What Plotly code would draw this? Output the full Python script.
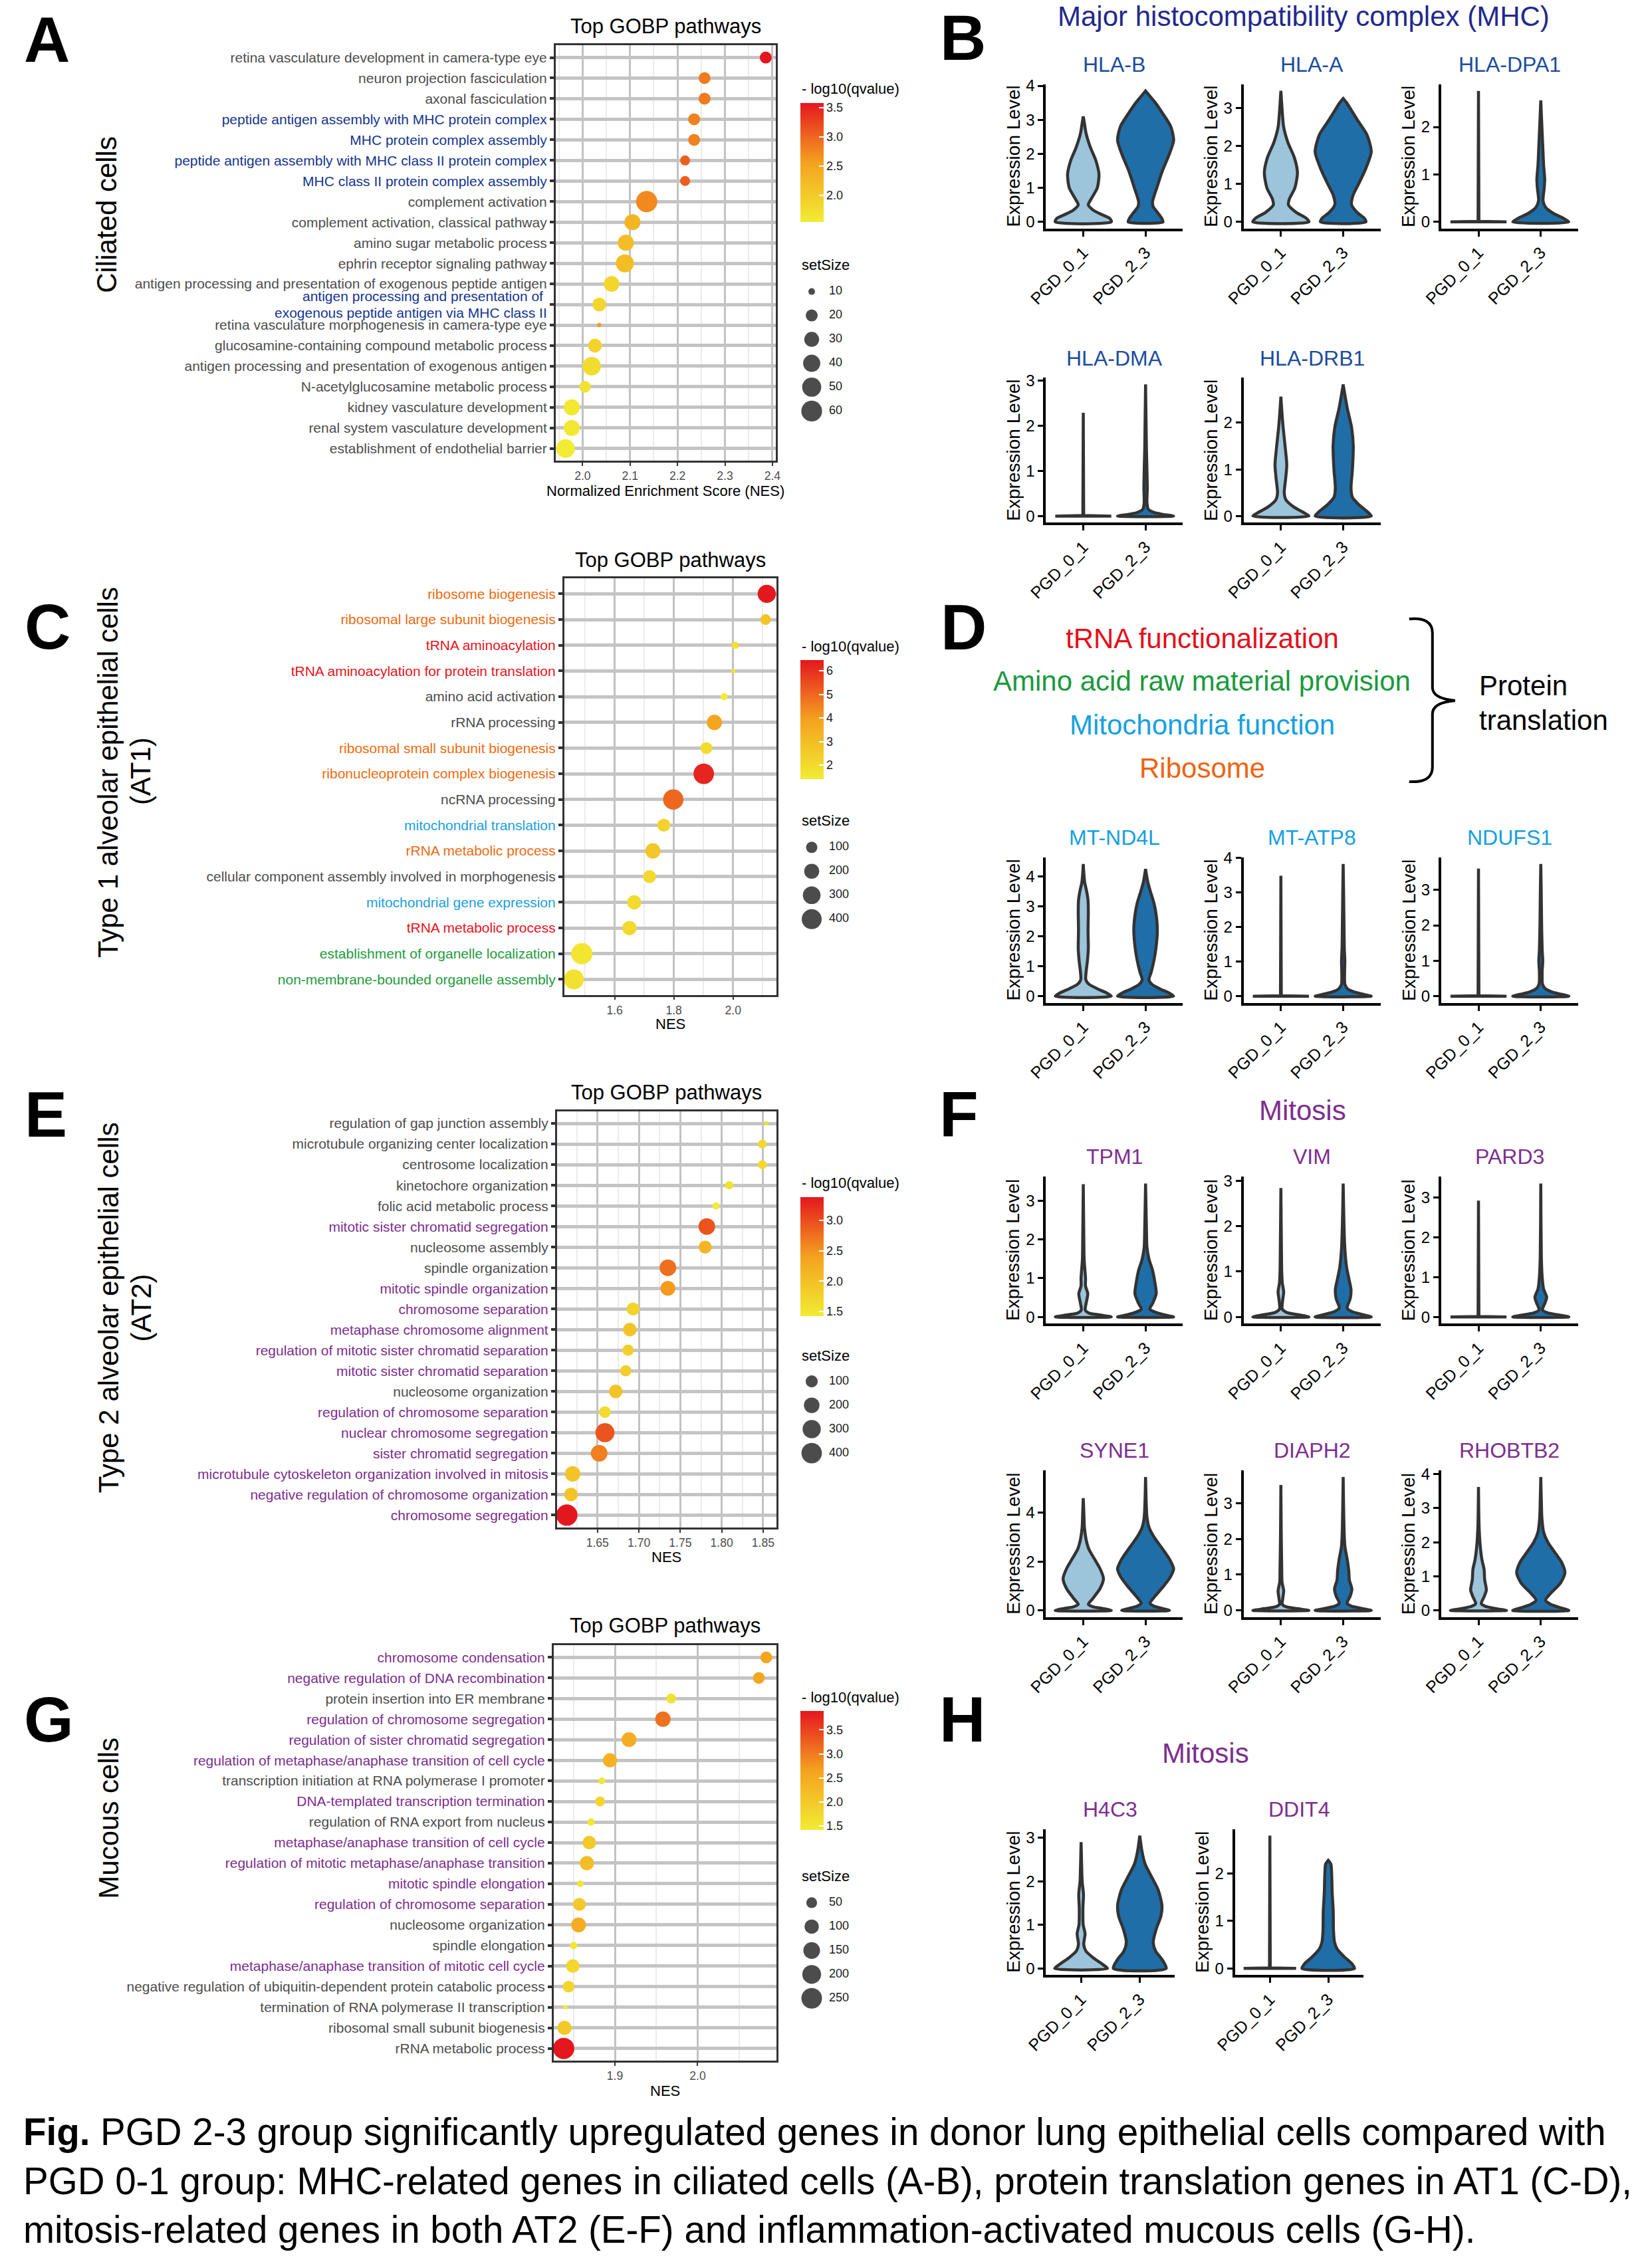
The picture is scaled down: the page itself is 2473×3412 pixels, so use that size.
import plotly.graph_objects as go

W, H = 2473, 3412
FONT = "Liberation Sans, Arial, Helvetica, sans-serif"

# ------------------------------------------------------------------ data
a_terms = [
    "retina vasculature development in camera-type eye",
    "neuron projection fasciculation",
    "axonal fasciculation",
    "peptide antigen assembly with MHC protein complex",
    "MHC protein complex assembly",
    "peptide antigen assembly with MHC class II protein complex",
    "MHC class II protein complex assembly",
    "complement activation",
    "complement activation, classical pathway",
    "amino sugar metabolic process",
    "ephrin receptor signaling pathway",
    "antigen processing and presentation of exogenous peptide antigen",
    "antigen processing and presentation of <br>exogenous peptide antigen via MHC class II",
    "retina vasculature morphogenesis in camera-type eye",
    "glucosamine-containing compound metabolic process",
    "antigen processing and presentation of exogenous antigen",
    "N-acetylglucosamine metabolic process",
    "kidney vasculature development",
    "renal system vasculature development",
    "establishment of endothelial barrier",
]
a_group = ["other", "other", "other", "mhc", "mhc", "mhc", "mhc", "other", "other", "other",
           "other", "other", "mhc", "other", "other", "other", "other", "other", "other", "other"]
a_nes = [2.386, 2.257, 2.257, 2.235, 2.235, 2.216, 2.216, 2.135, 2.105, 2.091,
         2.089, 2.061, 2.035, 2.035, 2.026, 2.019, 2.005, 1.977, 1.977, 1.964]
a_q = [3.58, 2.85, 2.85, 2.8, 2.8, 3.05, 3.05, 2.75, 2.3, 2.2,
       2.2, 1.85, 1.85, 2.6, 1.9, 1.75, 1.7, 1.6, 1.6, 1.55]
a_size = [20, 20, 20, 20, 20, 15, 15, 63, 35, 35, 44, 33, 26, 9, 26, 47, 19, 35, 35, 47]
a_size_breaks = [10, 20, 30, 40, 50, 60]
a_cbar_ticks = [2.0, 2.5, 3.0, 3.5]

c_terms = [
    "ribosome biogenesis",
    "ribosomal large subunit biogenesis",
    "tRNA aminoacylation",
    "tRNA aminoacylation for protein translation",
    "amino acid activation",
    "rRNA processing",
    "ribosomal small subunit biogenesis",
    "ribonucleoprotein complex biogenesis",
    "ncRNA processing",
    "mitochondrial translation",
    "rRNA metabolic process",
    "cellular component assembly involved in morphogenesis",
    "mitochondrial gene expression",
    "tRNA metabolic process",
    "establishment of organelle localization",
    "non-membrane-bounded organelle assembly",
]
c_group = ["ribo", "ribo", "trna", "trna", "other", "other", "ribo", "ribo", "other", "mito",
           "ribo", "other", "mito", "trna", "amino", "amino"]
c_nes = [2.114, 2.110, 2.008, 2.002, 1.970, 1.937, 1.910, 1.901, 1.798, 1.766,
         1.729, 1.718, 1.666, 1.650, 1.489, 1.462]
c_q = [6.45, 2.8, 1.8, 1.7, 1.41, 3.8, 2.0, 6.2, 5.0, 2.3, 2.7, 2.1, 2.0, 2.1, 1.6, 1.8]
c_size = [320, 86, 37, 25, 37, 210, 115, 430, 420, 140, 210, 140, 175, 175, 466, 400]
c_size_breaks = [100, 200, 300, 400]
c_cbar_ticks = [2, 3, 4, 5, 6]

e_terms = [
    "regulation of gap junction assembly",
    "microtubule organizing center localization",
    "centrosome localization",
    "kinetochore organization",
    "folic acid metabolic process",
    "mitotic sister chromatid segregation",
    "nucleosome assembly",
    "spindle organization",
    "mitotic spindle organization",
    "chromosome separation",
    "metaphase chromosome alignment",
    "regulation of mitotic sister chromatid separation",
    "mitotic sister chromatid separation",
    "nucleosome organization",
    "regulation of chromosome separation",
    "nuclear chromosome segregation",
    "sister chromatid segregation",
    "microtubule cytoskeleton organization involved in mitosis",
    "negative regulation of chromosome organization",
    "chromosome segregation",
]
e_group = ["other", "other", "other", "other", "other", "mit", "other", "other", "mit", "mit",
           "mit", "mit", "mit", "other", "mit", "mit", "mit", "mit", "mit", "mit"]
e_nes = [1.854, 1.849, 1.849, 1.809, 1.793, 1.782, 1.780, 1.735, 1.735, 1.693,
         1.689, 1.687, 1.684, 1.672, 1.659, 1.659, 1.652, 1.620, 1.618, 1.613]
e_q = [1.6, 1.7, 1.7, 1.55, 1.42, 2.95, 2.15, 2.75, 2.45, 1.75,
       1.95, 1.8, 1.8, 1.95, 1.65, 2.95, 2.65, 1.95, 1.95, 3.38]
e_size = [10, 41, 41, 34, 22, 237, 123, 237, 175, 123, 140, 83, 83, 140, 90, 333, 237, 195, 140, 440]
e_size_breaks = [100, 200, 300, 400]
e_cbar_ticks = [1.5, 2.0, 2.5, 3.0]

g_terms = [
    "chromosome condensation",
    "negative regulation of DNA recombination",
    "protein insertion into ER membrane",
    "regulation of chromosome segregation",
    "regulation of sister chromatid segregation",
    "regulation of metaphase/anaphase transition of cell cycle",
    "transcription initiation at RNA polymerase I promoter",
    "DNA-templated transcription termination",
    "regulation of RNA export from nucleus",
    "metaphase/anaphase transition of cell cycle",
    "regulation of mitotic metaphase/anaphase transition",
    "mitotic spindle elongation",
    "regulation of chromosome separation",
    "nucleosome organization",
    "spindle elongation",
    "metaphase/anaphase transition of mitotic cell cycle",
    "negative regulation of ubiquitin-dependent protein catabolic process",
    "termination of RNA polymerase II transcription",
    "ribosomal small subunit biogenesis",
    "rRNA metabolic process",
]
g_group = ["mit", "mit", "other", "mit", "mit", "mit", "other", "mit", "other", "mit",
           "mit", "mit", "mit", "other", "other", "mit", "other", "other", "other", "other"]
g_nes = [2.083, 2.074, 1.968, 1.958, 1.917, 1.894, 1.884, 1.882, 1.871, 1.869,
         1.866, 1.858, 1.857, 1.856, 1.850, 1.849, 1.844, 1.840, 1.839, 1.838]
g_q = [2.6, 2.6, 1.6, 3.1, 2.5, 2.4, 1.5, 1.8, 1.5, 2.0,
       2.2, 1.5, 2.0, 2.5, 1.5, 1.8, 1.8, 1.42, 2.0, 3.9]
g_size = [62, 62, 40, 122, 110, 99, 17, 40, 20, 88, 99, 17, 78, 110, 20, 88, 62, 12, 99, 270]
g_size_breaks = [50, 100, 150, 200, 250]
g_cbar_ticks = [1.5, 2.0, 2.5, 3.0, 3.5]

groups = ["PGD_0_1", "PGD_2_3"]

# Violin density profiles: (expression level, relative half-width)
hla_b_01 = [(0, 1.0), (0.1, 0.95), (0.2, 0.7), (0.35, 0.35), (0.5, 0.18), (0.7, 0.3), (1.0, 0.5),
            (1.4, 0.56), (1.8, 0.45), (2.2, 0.25), (2.6, 0.1), (2.9, 0.04), (3.1, 0)]
hla_b_23 = [(0, 0.62), (0.1, 0.58), (0.25, 0.45), (0.45, 0.27), (0.6, 0.25), (1.0, 0.4), (1.5, 0.6),
            (2.0, 0.85), (2.4, 1.0), (2.8, 0.9), (3.2, 0.6), (3.5, 0.35), (3.7, 0.15), (3.85, 0)]
hla_a_01 = [(0, 1.0), (0.1, 0.9), (0.25, 0.55), (0.45, 0.27), (0.6, 0.3), (0.9, 0.5), (1.3, 0.59),
            (1.7, 0.48), (2.1, 0.25), (2.5, 0.1), (2.9, 0.05), (3.46, 0)]
hla_a_23 = [(0, 0.81), (0.1, 0.75), (0.25, 0.5), (0.45, 0.3), (0.7, 0.35), (1.0, 0.55), (1.4, 0.8),
            (1.85, 1.0), (2.3, 0.85), (2.7, 0.5), (3.0, 0.25), (3.15, 0.12), (3.26, 0)]
hla_dpa1_01 = [(0, 1.0), (0.012, 0.015), (2.76, 0)]
hla_dpa1_23 = [(0, 1.0), (0.08, 0.8), (0.18, 0.45), (0.3, 0.18), (0.45, 0.08), (0.7, 0.12), (0.9, 0.14),
               (1.2, 0.1), (1.6, 0.07), (2.0, 0.04), (2.56, 0)]
hla_dma_01 = [(0, 1.0), (0.012, 0.015), (2.29, 0)]
hla_dma_23 = [(0, 1.0), (0.04, 0.6), (0.08, 0.3), (0.15, 0.1), (0.3, 0.05), (0.6, 0.06), (1.0, 0.05),
              (1.5, 0.03), (2.0, 0.02), (2.92, 0)]
hla_drb1_01 = [(0, 1.0), (0.08, 0.8), (0.2, 0.45), (0.35, 0.18), (0.5, 0.12), (0.8, 0.17), (1.1, 0.21),
               (1.5, 0.15), (1.9, 0.08), (2.2, 0.04), (2.56, 0)]
hla_drb1_23 = [(0, 1.0), (0.1, 0.85), (0.25, 0.55), (0.4, 0.33), (0.6, 0.28), (1.0, 0.33), (1.5, 0.36),
               (1.9, 0.3), (2.3, 0.15), (2.6, 0.06), (2.82, 0)]

mt_nd4l_01 = [(0, 1.0), (0.1, 0.85), (0.25, 0.5), (0.4, 0.2), (0.55, 0.09), (0.8, 0.1), (1.2, 0.15),
              (1.6, 0.18), (2.2, 0.17), (2.8, 0.18), (3.2, 0.17), (3.5, 0.12), (3.8, 0.05), (4.1, 0.02), (4.41, 0)]
mt_nd4l_23 = [(0, 1.0), (0.1, 0.85), (0.25, 0.5), (0.4, 0.22), (0.55, 0.12), (0.8, 0.2), (1.2, 0.3),
              (1.6, 0.37), (2.2, 0.42), (2.7, 0.38), (3.1, 0.3), (3.5, 0.17), (3.8, 0.08), (4.24, 0)]
mt_atp8_01 = [(0, 1.0), (0.012, 0.015), (3.49, 0)]
mt_atp8_23 = [(0, 1.0), (0.05, 0.75), (0.12, 0.4), (0.22, 0.15), (0.35, 0.06), (0.7, 0.05), (1.0, 0.06),
              (1.4, 0.04), (2.0, 0.03), (3.0, 0.015), (3.83, 0)]
ndufs1_01 = [(0, 1.0), (0.012, 0.015), (3.6, 0)]
ndufs1_23 = [(0, 1.0), (0.05, 0.75), (0.12, 0.4), (0.22, 0.15), (0.35, 0.06), (0.7, 0.05), (1.0, 0.07),
             (1.3, 0.05), (2.0, 0.03), (3.0, 0.015), (3.73, 0)]

tpm1_01 = [(0, 1.0), (0.05, 0.6), (0.1, 0.2), (0.18, 0.07), (0.35, 0.1), (0.6, 0.16), (0.8, 0.08),
           (1.0, 0.08), (1.2, 0.06), (1.5, 0.03), (2.0, 0.02), (3.43, 0)]
tpm1_23 = [(0, 1.0), (0.05, 0.7), (0.12, 0.35), (0.2, 0.15), (0.35, 0.25), (0.6, 0.38), (0.9, 0.33),
           (1.2, 0.25), (1.5, 0.12), (1.8, 0.05), (2.3, 0.03), (3.45, 0)]
vim_01 = [(0, 1.0), (0.05, 0.6), (0.1, 0.2), (0.17, 0.05), (0.35, 0.06), (0.55, 0.1), (0.75, 0.05),
          (1.0, 0.03), (1.5, 0.02), (2.84, 0)]
vim_23 = [(0, 1.0), (0.05, 0.7), (0.12, 0.3), (0.2, 0.14), (0.4, 0.25), (0.6, 0.28), (0.85, 0.2),
          (1.1, 0.12), (1.5, 0.06), (2.0, 0.03), (2.94, 0)]
pard3_01 = [(0, 1.0), (0.012, 0.015), (2.93, 0)]
pard3_23 = [(0, 1.0), (0.05, 0.65), (0.1, 0.25), (0.18, 0.06), (0.35, 0.15), (0.5, 0.21), (0.7, 0.1),
            (1.0, 0.05), (1.5, 0.02), (3.36, 0)]
syne1_01 = [(0, 1.0), (0.08, 0.7), (0.15, 0.35), (0.25, 0.18), (0.5, 0.35), (0.9, 0.6), (1.3, 0.72),
            (1.7, 0.6), (2.1, 0.4), (2.5, 0.2), (2.9, 0.1), (3.4, 0.04), (4.0, 0.02), (4.59, 0)]
syne1_23 = [(0, 0.85), (0.08, 0.6), (0.18, 0.3), (0.3, 0.16), (0.6, 0.35), (1.0, 0.65), (1.4, 0.9),
            (1.7, 1.0), (2.1, 0.85), (2.6, 0.55), (3.0, 0.3), (3.4, 0.12), (3.8, 0.05), (4.5, 0.02), (5.45, 0)]
diaph2_01 = [(0, 1.0), (0.05, 0.6), (0.1, 0.2), (0.17, 0.05), (0.35, 0.07), (0.55, 0.1), (0.8, 0.04),
             (1.2, 0.03), (2.0, 0.015), (3.51, 0)]
diaph2_23 = [(0, 1.0), (0.05, 0.7), (0.12, 0.3), (0.2, 0.14), (0.4, 0.25), (0.6, 0.31), (0.85, 0.22),
             (1.1, 0.2), (1.4, 0.15), (1.8, 0.06), (2.3, 0.03), (3.73, 0)]
rhobtb2_01 = [(0, 1.0), (0.05, 0.65), (0.12, 0.25), (0.2, 0.1), (0.4, 0.2), (0.6, 0.28), (0.9, 0.22),
              (1.2, 0.2), (1.5, 0.12), (1.9, 0.06), (2.5, 0.02), (3.62, 0)]
rhobtb2_23 = [(0, 1.0), (0.08, 0.7), (0.18, 0.35), (0.3, 0.17), (0.5, 0.35), (0.8, 0.7), (1.1, 0.86),
              (1.4, 0.75), (1.7, 0.5), (2.0, 0.25), (2.3, 0.1), (2.7, 0.04), (3.2, 0.02), (3.91, 0)]

h4c3_01 = [(0, 1.0), (0.1, 0.8), (0.25, 0.45), (0.4, 0.18), (0.55, 0.1), (0.8, 0.15), (1.0, 0.08),
           (1.4, 0.07), (1.7, 0.09), (2.0, 0.04), (2.4, 0.02), (2.9, 0)]
h4c3_23 = [(0, 1.0), (0.2, 0.85), (0.4, 0.6), (0.6, 0.51), (0.9, 0.62), (1.2, 0.8), (1.45, 0.84),
           (1.8, 0.7), (2.1, 0.45), (2.4, 0.2), (2.7, 0.08), (3.05, 0)]
ddit4_01 = [(0, 1.0), (0.012, 0.015), (2.8, 0)]
ddit4_23 = [(0, 1.0), (0.1, 0.9), (0.25, 0.6), (0.4, 0.35), (0.55, 0.24), (0.8, 0.2), (1.2, 0.19),
            (1.6, 0.15), (2.0, 0.13), (2.2, 0.1), (2.28, 0)]

caption_lines = [
    "<b>Fig.</b> PGD 2-3 group significantly upregulated genes in donor lung epithelial cells compared with",
    "PGD 0-1 group: MHC-related genes in ciliated cells (A-B), protein translation genes in AT1 (C-D),",
    "mitosis-related genes in both AT2 (E-F) and inflammation-activated mucous cells (G-H).",
]

# ------------------------------------------------------------------ styles
LABEL_COLORS = {"other": "#4D4D4D", "mhc": "#14358F", "ribo": "#EE6B10", "trna": "#E8131C",
                "mito": "#1AA0E0", "amino": "#1E9B3C", "mit": "#7D2E8E"}
CSCALE = [[0.0, "#F2EC33"], [0.5, "#F4A21F"], [1.0, "#E4171E"]]
C_LO, C_HI = "#9CC4DB", "#1F6EA7"
BLUE_T, SKY_T, PURPLE_T = "#1B4C9E", "#15A0E0", "#7D2E8E"

# placement of the figure inside the captured picture (measured): picture = O + S * figure
OX, SX = 39.0, 0.9834
OY, SY = 11.0, 0.9965


def fx(r):
    return (r - OX) / SX


def fy(r):
    return (r - OY) / SY


def xd(p0, p1):
    return [fx(p0) / W, fx(p1) / W]


def yd(p0, p1):
    return [1 - fy(p1) / H, 1 - fy(p0) / H]


def px(x):
    return fx(x) / W


def py(y):
    return 1 - fy(y) / H


fig = go.Figure()
layout_extra = {}
annotations = []
shapes = []
_ax = [0]


def new_ax():
    _ax[0] += 1
    n = _ax[0]
    return n, ("x" if n == 1 else f"x{n}"), ("y" if n == 1 else f"y{n}")


def set_axes(n, xa, ya):
    layout_extra["xaxis" if n == 1 else f"xaxis{n}"] = xa
    layout_extra["yaxis" if n == 1 else f"yaxis{n}"] = ya


def ann(text, x, y, size, color="black", xanchor="center", yanchor="middle", angle=0, xpaper=None):
    annotations.append(dict(text=text, x=px(x) if xpaper is None else xpaper, y=py(y),
                            xref="paper", yref="paper",
                            showarrow=False, xanchor=xanchor, yanchor=yanchor, textangle=angle,
                            font=dict(size=size, color=color, family=FONT)))


def diam(v, lo, hi):
    return 6.5 + 25.5 * ((v - lo) / (hi - lo)) ** 0.5


_cax = [0]


def add_dotplot(terms, grp, nes, q, size, box, xdtick, xfmt, cticks, cfmt, cbar_box, cbar_title_y,
                breaks, leg_title_y, leg_first_y, xtitle, title_y, xtitle_y):
    x0, x1, y0, y1 = box
    n, xr, yr = new_ax()
    _cax[0] += 1
    cax = "coloraxis" if _cax[0] == 1 else f"coloraxis{_cax[0]}"
    lo, hi = min(size), max(size)
    span = max(nes) - min(nes)
    m = len(terms)
    ypos = list(range(m))
    fig.add_trace(go.Scatter(
        x=nes, y=ypos, mode="markers", xaxis=xr, yaxis=yr, showlegend=False, hoverinfo="skip",
        marker=dict(size=[diam(v, lo, hi) for v in size], color=q, coloraxis=cax, line=dict(width=0), opacity=1)))
    ticktext = []
    for i, (t, g) in enumerate(zip(terms, grp)):
        col = LABEL_COLORS[g]
        if "<br>" in t:
            ticktext.append("")
            l1, l2 = t.split("<br>")
            for line, dy in ((l1, -0.39), (l2, 0.39)):
                annotations.append(dict(text=line, xref="paper", yref=yr, x=px(x0 - 11), y=i + dy,
                                        xanchor="right", yanchor="middle", showarrow=False,
                                        font=dict(size=21, color=col, family=FONT)))
        else:
            ticktext.append(f'<span style="color:{col}">{t}</span>')
    xa = dict(domain=xd(x0, x1), anchor=yr, range=[min(nes) - 0.05 * span, max(nes) + 0.05 * span],
              tick0=0, dtick=xdtick, tickformat=xfmt, showgrid=True, gridcolor="#C2C2C2", gridwidth=3,
              minor=dict(dtick=xdtick / 2, tick0=0, showgrid=True, gridcolor="#EBEBEB", gridwidth=2),
              ticks="outside", ticklen=5, tickwidth=2, tickcolor="#333333",
              tickfont=dict(size=17.6, color="#4D4D4D", family=FONT),
              showline=True, mirror=True, linecolor="#333333", linewidth=2.5, zeroline=False, fixedrange=True)
    ya = dict(domain=yd(y0, y1), anchor=xr, range=[m - 1 + 0.6, -0.6], tickvals=ypos, ticktext=ticktext,
              showgrid=True, gridcolor="#C4C4C4", gridwidth=5, ticks="outside", ticklen=6, tickwidth=4,
              tickcolor="#333333", tickfont=dict(size=21, color="#4D4D4D", family=FONT),
              showline=True, mirror=True, linecolor="#333333", linewidth=2.5, zeroline=False, fixedrange=True)
    set_axes(n, xa, ya)
    cb_x0, cb_x1, cb_y0, cb_y1 = cbar_box
    layout_extra[cax] = dict(
        colorscale=CSCALE, cmin=min(q), cmax=max(q),
        colorbar=dict(x=px(cb_x0), xanchor="left", y=py((cb_y0 + cb_y1) / 2), yanchor="middle",
                      len=cb_y1 - cb_y0, lenmode="pixels", thickness=cb_x1 - cb_x0, thicknessmode="pixels",
                      tickvals=cticks, ticktext=[format(t, cfmt) for t in cticks], ticks="inside",
                      ticklen=7, tickwidth=2, tickcolor="white", outlinewidth=0, xpad=0, ypad=0,
                      tickfont=dict(size=18, color="#1A1A1A", family=FONT), title=dict(text="")))
    ann("- log10(qvalue)", 1210, cbar_title_y, 22, xanchor="left")
    n2, xr2, yr2 = new_ax()
    k = len(breaks)
    step = 36
    fig.add_trace(go.Scatter(x=[0] * k, y=list(range(k)), mode="markers", xaxis=xr2, yaxis=yr2,
                             showlegend=False, hoverinfo="skip",
                             marker=dict(size=[diam(b, lo, hi) for b in breaks], color="black", line=dict(width=0))))
    fig.add_trace(go.Scatter(x=[26] * k, y=list(range(k)), mode="text", xaxis=xr2, yaxis=yr2,
                             showlegend=False, hoverinfo="skip", text=[str(b) for b in breaks],
                             textposition="middle right", textfont=dict(size=18, color="#1A1A1A", family=FONT)))
    set_axes(n2,
             dict(domain=xd(1200, 1320), anchor=yr2, range=[-27, 93], visible=False, fixedrange=True),
             dict(domain=yd(leg_first_y - step / 2, leg_first_y + (k - 0.5) * step), anchor=xr2,
                  range=[k - 0.5, -0.5], visible=False, fixedrange=True))
    ann("setSize", 1210, leg_title_y, 22, xanchor="left")
    ann("Top GOBP pathways", (x0 + x1) / 2, title_y, 31)
    ann(xtitle, (x0 + x1) / 2, xtitle_y, 22)


def violin_path(center, prof):
    right = [(center + 0.45 * w, y) for y, w in prof]
    left = [(center - 0.45 * w, y) for y, w in reversed(prof)]
    pts = right + left + [right[0]]
    return [p[0] for p in pts], [p[1] for p in pts]


def add_violin(gene, prof_a, prof_b, box, tcolor):
    x0, x1, y0, y1 = box
    n, xr, yr = new_ax()
    mx = max(max(p[0] for p in prof_a), max(p[0] for p in prof_b))
    for ci, (prof, fill) in enumerate([(prof_a, C_LO), (prof_b, C_HI)]):
        xs, ys = violin_path(ci, prof)
        spike = len(prof) <= 3
        fig.add_trace(go.Scatter(
            x=xs, y=ys, mode="lines", fill="toself", fillcolor=fill, xaxis=xr, yaxis=yr,
            showlegend=False, hoverinfo="skip",
            line=dict(color="#333333", width=4.5, shape="linear" if spike else "spline",
                      smoothing=0 if spike else 0.7)))
    xa = dict(domain=xd(x0, x1), anchor=yr, range=[-0.6, 1.6], tickvals=[0, 1], ticktext=groups,
              tickangle=-45, ticks="outside", ticklen=8, tickwidth=3, tickcolor="black",
              showline=True, linewidth=4, linecolor="black", showgrid=False, zeroline=False,
              tickfont=dict(size=25, color="black", family=FONT), fixedrange=True)
    ya = dict(domain=yd(y0, y1), anchor=xr, range=[-0.05 * mx, 1.05 * mx], tick0=0,
              dtick=2 if mx > 4.5 else 1, ticks="outside", ticklen=8, tickwidth=3, tickcolor="black",
              showline=True, linewidth=4, linecolor="black", showgrid=False, zeroline=False,
              tickfont=dict(size=24, color="black", family=FONT), fixedrange=True)
    set_axes(n, xa, ya)
    ann(gene, (x0 + x1) / 2, y0 - 30, 32, tcolor)
    ann("Expression Level", x0 - 49, (y0 + y1) / 2, 28, angle=-90)


# ------------------------------------------------------------------ dot plots
add_dotplot(a_terms, a_group, a_nes, a_q, a_size, (842, 1173, 67, 693), 0.1, ".1f", a_cbar_ticks, ".1f",
            (1210, 1245, 154, 333), 133, a_size_breaks, 398, 438,
            "Normalized Enrichment Score (NES)", 39, 738)
add_dotplot(c_terms, c_group, c_nes, c_q, c_size, (855, 1174, 870, 1497), 0.2, ".1f", c_cbar_ticks, "d",
            (1210, 1245, 993, 1172), 972, c_size_breaks, 1235, 1275, "NES", 842, 1541)
add_dotplot(e_terms, e_group, e_nes, e_q, e_size, (844, 1174, 1672, 2299), 0.05, ".2f", e_cbar_ticks, ".1f",
            (1210, 1245, 1802, 1981), 1780, e_size_breaks, 2040, 2079, "NES", 1644, 2344)
add_dotplot(g_terms, g_group, g_nes, g_q, g_size, (839, 1174, 2476, 3102), 0.1, ".1f", g_cbar_ticks, ".1f",
            (1210, 1245, 2575, 2754), 2555, g_size_breaks, 2824, 2864, "NES", 2447, 3147)

ann("Ciliated cells", 168, 322, 42, angle=-90)
ann("Type 1 alveolar epithelial cells", 170, 1162, 42, angle=-90)
ann("(AT1)", 219, 1160, 42, angle=-90)
ann("Type 2 alveolar epithelial cells", 170, 1968, 42, angle=-90)
ann("(AT2)", 219, 1968, 42, angle=-90)
ann("Mucous cells", 170, 2737, 42, angle=-90)

# ------------------------------------------------------------------ violins
cols = [1579, 1876, 2173]
VW = 206
ann("Major histocompatibility complex (MHC)", 1966, 24, 42, "#22298C")
add_violin("HLA-B", hla_b_01, hla_b_23, (cols[0], cols[0] + VW, 126, 343), BLUE_T)
add_violin("HLA-A", hla_a_01, hla_a_23, (cols[1], cols[1] + VW, 126, 343), BLUE_T)
add_violin("HLA-DPA1", hla_dpa1_01, hla_dpa1_23, (cols[2], cols[2] + VW, 126, 343), BLUE_T)
add_violin("HLA-DMA", hla_dma_01, hla_dma_23, (cols[0], cols[0] + VW, 568, 786), BLUE_T)
add_violin("HLA-DRB1", hla_drb1_01, hla_drb1_23, (cols[1], cols[1] + VW, 568, 786), BLUE_T)

ann("tRNA functionalization", 1814, 960, 42, "#E3101A")
ann("Amino acid raw material provision", 1814, 1024, 42, "#1A9A3C")
ann("Mitochondria function", 1814, 1090, 42, "#17A0E0")
ann("Ribosome", 1814, 1156, 42, "#EE6410")
ann("Protein", 2228, 1031, 42, xanchor="left")
ann("translation", 2228, 1083, 42, xanchor="left")


def P(x, y):
    return f"{px(x):.5f},{py(y):.5f}"


brace = (f"M {P(2125, 931)} Q {P(2160, 928)} {P(2160, 952)} L {P(2160, 1034)} "
         f"Q {P(2160, 1051)} {P(2194, 1054)} Q {P(2160, 1057)} {P(2160, 1074)} "
         f"L {P(2160, 1154)} Q {P(2160, 1178)} {P(2125, 1176)}")
shapes.append(dict(type="path", path=brace, xref="paper", yref="paper",
                   line=dict(color="black", width=4)))

add_violin("MT-ND4L", mt_nd4l_01, mt_nd4l_23, (cols[0], cols[0] + VW, 1290, 1509), SKY_T)
add_violin("MT-ATP8", mt_atp8_01, mt_atp8_23, (cols[1], cols[1] + VW, 1290, 1509), SKY_T)
add_violin("NDUFS1", ndufs1_01, ndufs1_23, (cols[2], cols[2] + VW, 1290, 1509), SKY_T)

ann("Mitosis", 1965, 1671, 42, PURPLE_T)
add_violin("TPM1", tpm1_01, tpm1_23, (cols[0], cols[0] + VW, 1771, 1992), PURPLE_T)
add_violin("VIM", vim_01, vim_23, (cols[1], cols[1] + VW, 1771, 1992), PURPLE_T)
add_violin("PARD3", pard3_01, pard3_23, (cols[2], cols[2] + VW, 1771, 1992), PURPLE_T)
add_violin("SYNE1", syne1_01, syne1_23, (cols[0], cols[0] + VW, 2213, 2434), PURPLE_T)
add_violin("DIAPH2", diaph2_01, diaph2_23, (cols[1], cols[1] + VW, 2213, 2434), PURPLE_T)
add_violin("RHOBTB2", rhobtb2_01, rhobtb2_23, (cols[2], cols[2] + VW, 2213, 2434), PURPLE_T)

ann("Mitosis", 1819, 2639, 42, PURPLE_T)
add_violin("H4C3", h4c3_01, h4c3_23, (1579, 1773, 2753, 2973), PURPLE_T)
add_violin("DDIT4", ddit4_01, ddit4_23, (1863, 2056, 2753, 2973), PURPLE_T)

for letter, lx, ly in [("A", 77, 55), ("B", 1454, 52), ("C", 78, 938), ("D", 1455, 939),
                       ("E", 76, 1673), ("F", 1448, 1672), ("G", 80, 2584), ("H", 1453, 2584)]:
    ann(f"<b>{letter}</b>", lx, ly + 4, 96)

for i, line in enumerate(caption_lines):
    ann(line, 0, 3209 + 74 * i, 56.5, xanchor="left", xpaper=1 / W)

fig.update_layout(width=W, height=H, autosize=False, margin=dict(l=0, r=0, t=0, b=0),
                  paper_bgcolor="white", plot_bgcolor="white", showlegend=False,
                  font=dict(family=FONT), annotations=annotations, shapes=shapes, **layout_extra)
fig.write_html("out.html",
               config={"responsive": False, "displayModeBar": False},
               post_script="document.body.style.margin='0';document.body.style.padding='0';"
                           "document.documentElement.style.overflow='hidden';")
